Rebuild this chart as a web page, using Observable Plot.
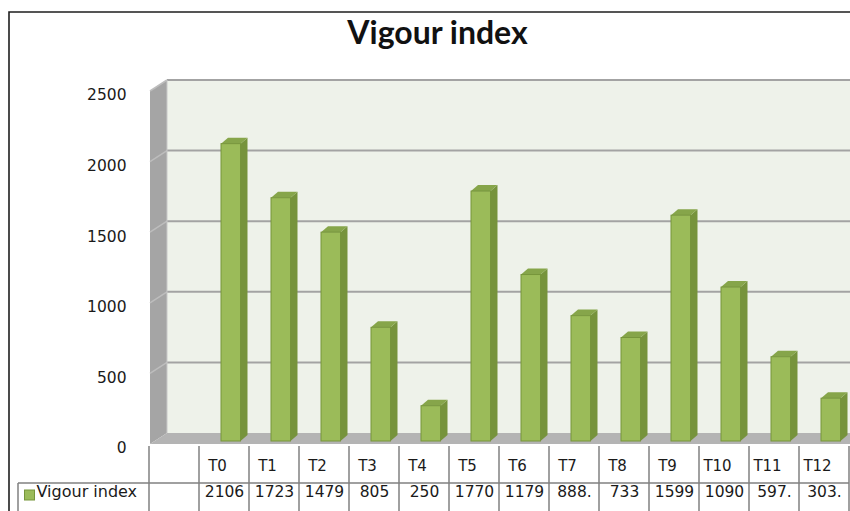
<!DOCTYPE html>
<html><head><meta charset="utf-8">
<script src="https://cdn.jsdelivr.net/npm/d3@7"></script>
<script src="https://cdn.jsdelivr.net/npm/@observablehq/plot@0.6"></script>
<style>
html,body{margin:0;padding:0;background:#fff;}
#chart{width:850px;height:511px;overflow:hidden;}
</style></head><body><div id="chart"></div>
<script>
const title = "Vigour index";
const seriesName = "Vigour index";
const categories = ["T0","T1","T2","T3","T4","T5","T6","T7","T8","T9","T10","T11","T12"];
const values = [2106,1723,1479,805,250,1770,1179,888,733,1599,1090,597,303];
const valueLabels = ["2106","1723","1479","805","250","1770","1179","888.","733","1599","1090","597.","303."];
const yTicks = [0,500,1000,1500,2000,2500];

const data = categories.map((c,i)=>({cat:c, value:values[i], label:valueLabels[i]}));

const FRONT = "#9BBB59", SIDE = "#76933C", TOP = "#86A54A", EDGE = "#76953B";
const INL = 22, INR = 8.5, DEPX = 7, DEPY = -6;

function bandW(x){ return x(categories[1]) - x(categories[0]); }

function backdrop(index, scales, values, dims) {
  const {x, y} = scales;
  const bw = bandW(x);
  const left = x(categories[0]) - bw;
  const fx = left + 1, bx = left + 18;
  const right = dims.width;
  const yf = v => y(v) + 3, yb = v => y(v) - 8;
  const top = d3.max(yTicks);
  const g = d3.create("svg:g");
  g.append("rect").attr("x", bx).attr("y", yb(top)).attr("width", right - bx)
    .attr("height", yb(0) - yb(top)).attr("fill", "#EEF2EA");
  g.append("path").attr("d", `M${fx},${yf(0)}L${bx},${yb(0)}L${bx},${yb(top)}L${fx},${yf(top)}Z`)
    .attr("fill", "#A5A5A5");
  g.append("path").attr("d", `M${fx},${yf(0)}L${bx},${yb(0)}L${right},${yb(0)}L${right},${yf(0)}Z`)
    .attr("fill", "#B4B4B4");
  for (const t of yTicks) {
    if (t > 0) {
      g.append("line").attr("x1", bx).attr("x2", right).attr("y1", yb(t)).attr("y2", yb(t))
        .attr("stroke", "#A3A3A3").attr("stroke-width", 2);
      g.append("line").attr("x1", fx).attr("x2", bx).attr("y1", yf(t)).attr("y2", yb(t))
        .attr("stroke", "#BDBDBD").attr("stroke-width", 1.5);
    }
  }
  g.append("line").attr("x1", bx).attr("x2", bx).attr("y1", yb(top)).attr("y2", yb(0))
    .attr("stroke", "#C8C8C8").attr("stroke-width", 1);
  return g.node();
}

function barSides(index, scales) {
  const {x, y} = scales;
  const bw = bandW(x);
  const g = d3.create("svg:g");
  for (const d of data) {
    const x0 = x(d.cat) + INL, x1 = x(d.cat) + bw - INR;
    const yt = y(d.value), y0 = y(0);
    g.append("path").attr("d", `M${x1},${yt}L${x1+DEPX},${yt+DEPY}L${x1+DEPX},${y0+DEPY}L${x1},${y0}Z`)
      .attr("fill", SIDE);
    g.append("path").attr("d", `M${x0},${yt}L${x0+DEPX},${yt+DEPY}L${x1+DEPX},${yt+DEPY}L${x1},${yt}Z`)
      .attr("fill", TOP);
  }
  return g.node();
}

function table(index, scales, values, dims) {
  const {x} = scales;
  const bw = bandW(x);
  const left = x(categories[0]) - bw;
  const right = x(categories[categories.length-1]) + bw;
  const yTop = 446, yMid = 483, yBot = dims.height;
  const g = d3.create("svg:g").attr("stroke", "#808080").attr("stroke-width", 1.5);
  const xs = [left, ...categories.map(c => x(c)), right];
  for (const xv of xs) g.append("line").attr("x1", xv).attr("x2", xv).attr("y1", yTop).attr("y2", yBot);
  g.append("line").attr("x1", 18).attr("x2", right).attr("y1", yMid).attr("y2", yMid);
  g.append("line").attr("x1", 18).attr("x2", 18).attr("y1", yMid).attr("y2", yBot);
  // legend swatch
  g.append("rect").attr("x", 24.5).attr("y", 490).attr("width", 10).attr("height", 10)
    .attr("fill", FRONT).attr("stroke", EDGE).attr("stroke-width", 1);
  // chart outer border
  g.append("path").attr("d", `M9,${dims.height}L9,12L${dims.width},12`).attr("fill", "none")
    .attr("stroke", "#1e1e1e").attr("stroke-width", 1.6);
  return g.node();
}

const plot = Plot.plot({
  width: 850, height: 511,
  marginTop: 0, marginRight: 0, marginBottom: 0, marginLeft: 0,
  x: {type: "band", domain: categories, range: [195.5, 852.5], padding: 0, axis: null},
  y: {domain: [0, 2500], range: [441, 88], axis: null},
  style: {background: "#fff", fontFamily: "DejaVu Sans", overflow: "hidden"},
  marks: [
    backdrop,
    Plot.text(yTicks, {y: d => d, text: d => String(d), frameAnchor: "left", dx: 126, dy: 7,
      textAnchor: "end", fontSize: 15.5, fill: "#1a1a1a"}),
    barSides,
    Plot.barY(data, {x: "cat", y: "value", insetLeft: INL, insetRight: INR, fill: FRONT, stroke: EDGE, strokeWidth: 1}),
    table,
    Plot.text(data, {x: "cat", text: "cat", frameAnchor: "bottom", dy: -41, dx: -7, fontSize: 15, fill: "#1a1a1a"}),
    Plot.text(data, {x: "cat", text: "label", frameAnchor: "bottom", dy: -15, fontSize: 15.5, fill: "#1a1a1a"}),
    Plot.text([seriesName], {frameAnchor: "bottom-left", dx: 36, dy: -15, textAnchor: "start", fontSize: 16, fill: "#1a1a1a"}),
    Plot.text([title], {frameAnchor: "top", dx: 12, dy: 43, lineAnchor: "bottom", fontSize: 32,
      fontWeight: "bold", fontFamily: "Lato", fill: "#111"})
  ]
});
document.getElementById("chart").appendChild(plot);
</script>
</body></html>
